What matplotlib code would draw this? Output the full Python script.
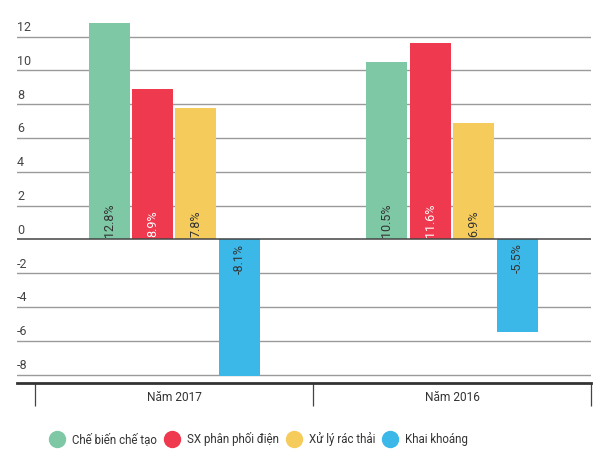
import matplotlib
matplotlib.use('Agg')
import matplotlib.pyplot as plt
from matplotlib.lines import Line2D
import numpy as np

plt.rcParams['font.family'] = ['Roboto', 'DejaVu Sans']

# Data
groups = ['Năm 2017', 'Năm 2016']
series = ['Chế biến chế tạo', 'SX phân phối điện', 'Xử lý rác thải', 'Khai khoáng']
values = {
    'Chế biến chế tạo': [12.8, 10.5],
    'SX phân phối điện': [8.9, 11.6],
    'Xử lý rác thải': [7.8, 6.9],
    'Khai khoáng': [-8.1, -5.5],
}
colors = ['#7ec8a6', '#ef394e', '#f5cc5c', '#3cb8e8']
label_colors = ['#333333', '#ffffff', '#333333', '#333333']
yticks = [-8, -6, -4, -2, 0, 2, 4, 6, 8, 10, 12]

fig = plt.figure(figsize=(6.04, 4.59), dpi=100)
ax = fig.add_axes([17 / 604, 1 - 383 / 459, 574 / 604, 368.4 / 459])

x = np.arange(len(groups))
width = 0.1475
step = 0.156
for i, name in enumerate(series):
    xs = x + (i - 1.5) * step
    vals = values[name]
    ax.bar(xs, vals, width, color=colors[i], zorder=3)
    for xx, v in zip(xs, vals):
        if v >= 0:
            ax.text(xx, 0.12, f'{v}%', rotation=90, ha='center', va='bottom',
                    fontsize=9, color=label_colors[i], zorder=4)
        else:
            ax.text(xx, -0.25, f'{v}%', rotation=90, ha='center', va='top',
                    fontsize=9, color=label_colors[i], zorder=4)

ax.set_xlim(-0.565, 1.5)
ax.set_ylim(-8.5, 13.3)

# grid
for t in yticks:
    if t == 0:
        ax.axhline(0, color='#444444', lw=1.1, zorder=4)
    else:
        ax.axhline(t, color='#9a9a9a', lw=1.0, zorder=1)
    ax.text(0.0, t + 0.15, str(t), transform=ax.get_yaxis_transform(),
            ha='left', va='bottom', fontsize=9, color='#444444')

ax.set_yticks([])
for s in ['top', 'left', 'right']:
    ax.spines[s].set_visible(False)
ax.spines['bottom'].set_color('#333333')
ax.spines['bottom'].set_linewidth(2)

ax.set_xticks(x)
ax.set_xticklabels(groups, fontsize=8.6, color='#333333')
ax.tick_params(axis='x', which='major', length=0, pad=6)
ax.set_xticks([-0.5, 0.5, 1.5], minor=True)
ax.tick_params(axis='x', which='minor', length=16.5, width=0.9, color='#444444')

handles = [Line2D([], [], marker='o', linestyle='none', markersize=11.5,
                  markerfacecolor=c, markeredgecolor=c) for c in colors]
fig.legend(handles, series, loc='center left', bbox_to_anchor=(51 / 604, 1 - 439 / 459),
           ncol=4, frameon=False, fontsize=8.3, handlelength=1.0,
           handletextpad=0.8, columnspacing=0.8, labelcolor='#333333',
           borderaxespad=0, borderpad=0)

fig.savefig('out.png', dpi=100, facecolor='white')
